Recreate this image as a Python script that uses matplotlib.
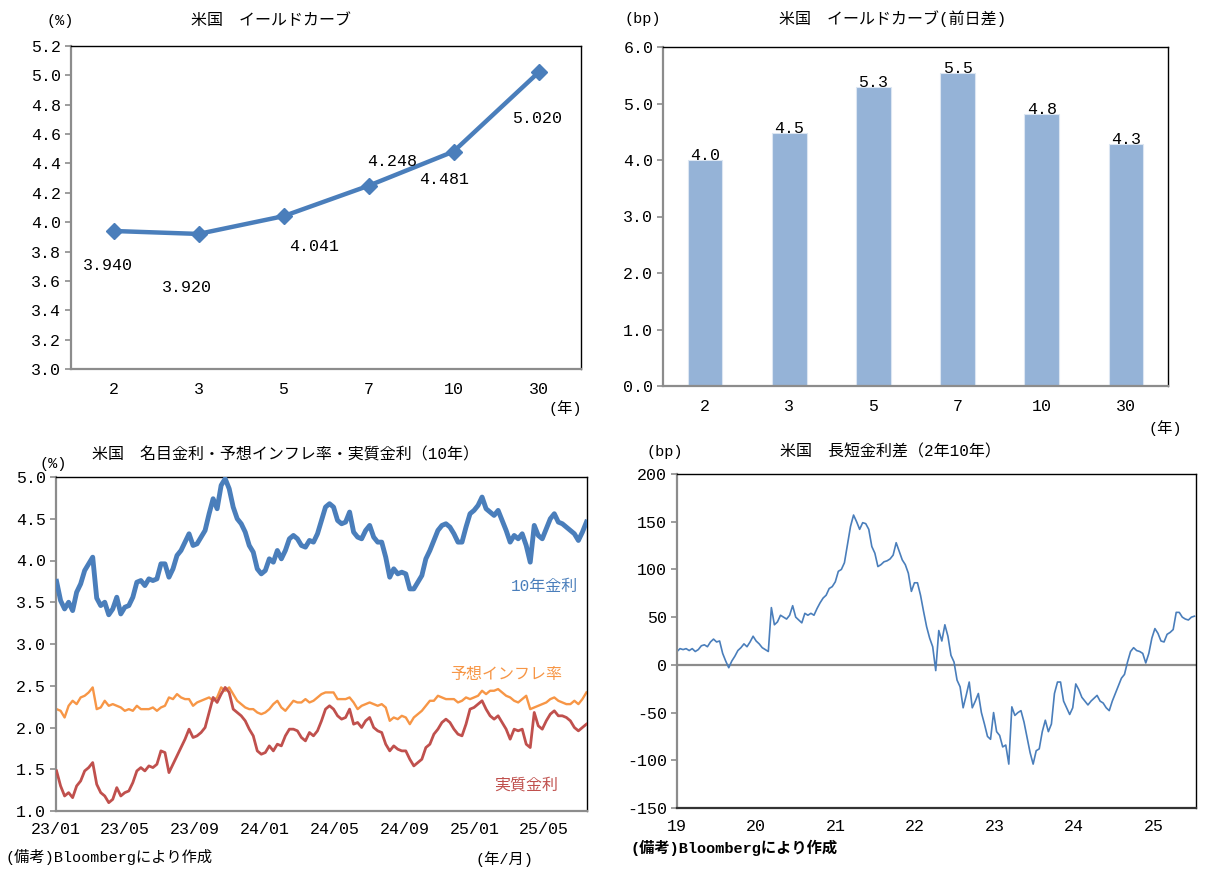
import numpy as np
import pandas as pd
import matplotlib
matplotlib.use('Agg')
import matplotlib.pyplot as plt
import matplotlib.dates as mdates
from matplotlib.ticker import FixedLocator, FormatStrFormatter

plt.rcParams['font.family'] = ['Liberation Mono', 'Noto Sans CJK JP']
plt.rcParams['axes.unicode_minus'] = False

# ---------------- data ----------------
maturities = ['2', '3', '5', '7', '10', '30']
yields = [3.940, 3.920, 4.041, 4.248, 4.481, 5.020]
daily_change_bp = [4.0, 4.47, 5.29, 5.54, 4.81, 4.29]

# weekly (Mondays from 2023-01-02) 10Y nominal, breakeven inflation, real yield (%)
nominal_10y = [
    3.75, 3.52, 3.42, 3.50, 3.40, 3.62, 3.72, 3.88, 3.96, 4.04,
    3.55, 3.46, 3.50, 3.35, 3.42, 3.56, 3.36, 3.44, 3.46, 3.56,
    3.74, 3.76, 3.70, 3.78, 3.76, 3.78, 3.96, 3.96, 3.80, 3.90,
    4.06, 4.12, 4.22, 4.32, 4.18, 4.20, 4.28, 4.36, 4.56, 4.74,
    4.62, 4.90, 4.98, 4.86, 4.64, 4.50, 4.44, 4.34, 4.18, 4.10,
    3.90, 3.84, 3.88, 4.02, 3.98, 4.12, 4.02, 4.12, 4.26, 4.30,
    4.26, 4.18, 4.16, 4.24, 4.22, 4.32, 4.48, 4.64, 4.68, 4.64,
    4.48, 4.44, 4.46, 4.58, 4.34, 4.28, 4.26, 4.36, 4.42, 4.28,
    4.22, 4.22, 4.04, 3.80, 3.90, 3.84, 3.86, 3.84, 3.66, 3.66,
    3.74, 3.82, 4.02, 4.12, 4.24, 4.36, 4.42, 4.44, 4.40, 4.32,
    4.22, 4.22, 4.40, 4.56, 4.60, 4.66, 4.76, 4.62, 4.58, 4.54,
    4.60, 4.48, 4.36, 4.22, 4.30, 4.26, 4.32, 4.18, 3.98, 4.42,
    4.30, 4.26, 4.38, 4.50, 4.56, 4.46, 4.44, 4.40, 4.36, 4.32,
    4.24, 4.34, 4.46]
breakeven_10y = [
    2.22, 2.20, 2.12, 2.26, 2.32, 2.28, 2.36, 2.38, 2.42, 2.48,
    2.22, 2.24, 2.32, 2.26, 2.28, 2.26, 2.24, 2.20, 2.22, 2.20,
    2.26, 2.22, 2.22, 2.22, 2.24, 2.20, 2.24, 2.26, 2.36, 2.34,
    2.40, 2.36, 2.34, 2.34, 2.26, 2.30, 2.32, 2.34, 2.36, 2.32,
    2.36, 2.48, 2.44, 2.48, 2.40, 2.32, 2.28, 2.24, 2.22, 2.22,
    2.18, 2.16, 2.18, 2.22, 2.28, 2.32, 2.24, 2.20, 2.26, 2.32,
    2.30, 2.30, 2.34, 2.30, 2.32, 2.36, 2.40, 2.42, 2.42, 2.42,
    2.34, 2.34, 2.34, 2.36, 2.30, 2.22, 2.26, 2.28, 2.30, 2.28,
    2.26, 2.28, 2.24, 2.08, 2.12, 2.10, 2.14, 2.12, 2.04, 2.12,
    2.16, 2.20, 2.26, 2.32, 2.32, 2.38, 2.36, 2.34, 2.34, 2.34,
    2.30, 2.32, 2.36, 2.34, 2.36, 2.38, 2.44, 2.40, 2.44, 2.44,
    2.46, 2.42, 2.38, 2.36, 2.32, 2.30, 2.34, 2.38, 2.22, 2.24,
    2.26, 2.28, 2.30, 2.34, 2.36, 2.32, 2.30, 2.28, 2.28, 2.32,
    2.28, 2.34, 2.42]
real_10y = [
    1.48, 1.30, 1.18, 1.22, 1.16, 1.30, 1.36, 1.48, 1.52, 1.58,
    1.32, 1.22, 1.18, 1.10, 1.14, 1.28, 1.18, 1.22, 1.24, 1.34,
    1.48, 1.52, 1.48, 1.54, 1.52, 1.56, 1.72, 1.70, 1.46, 1.56,
    1.66, 1.76, 1.86, 1.98, 1.88, 1.90, 1.94, 2.00, 2.18, 2.36,
    2.30, 2.40, 2.48, 2.42, 2.22, 2.18, 2.14, 2.08, 1.98, 1.90,
    1.72, 1.68, 1.70, 1.78, 1.72, 1.80, 1.78, 1.90, 1.98, 1.98,
    1.96, 1.88, 1.84, 1.94, 1.90, 1.96, 2.08, 2.22, 2.26, 2.22,
    2.14, 2.10, 2.12, 2.22, 2.04, 2.06, 2.00, 2.08, 2.12, 2.00,
    1.96, 1.94, 1.80, 1.72, 1.78, 1.74, 1.72, 1.72, 1.62, 1.54,
    1.58, 1.62, 1.76, 1.80, 1.92, 1.98, 2.06, 2.10, 2.06, 1.98,
    1.92, 1.90, 2.04, 2.22, 2.24, 2.28, 2.32, 2.22, 2.14, 2.10,
    2.14, 2.06, 1.98, 1.86, 1.98, 1.96, 1.98, 1.80, 1.76, 2.18,
    2.02, 1.98, 2.08, 2.16, 2.20, 2.14, 2.14, 2.12, 2.08, 2.00,
    1.96, 2.00, 2.04]
dates_10y = pd.date_range('2023-01-02', periods=len(nominal_10y), freq='7D')

# bi-weekly 2s10s spread (bp) from 2019-01-01
spread_2s10s = [
    14, 17, 16, 17, 15, 17, 14, 16, 20, 21,
    19, 24, 27, 24, 25, 12, 4, -3, 4, 9,
    15, 18, 22, 19, 24, 30, 25, 22, 18, 16,
    14, 60, 42, 45, 52, 50, 48, 52, 62, 50,
    47, 44, 54, 52, 54, 52, 59, 65, 70, 73,
    80, 82, 87, 98, 100, 107, 126, 145, 157, 150,
    142, 149, 148, 142, 124, 117, 103, 105, 108, 109,
    111, 115, 128, 119, 110, 105, 96, 77, 86, 86,
    73, 56, 40, 28, 19, -6, 36, 25, 42, 30,
    10, 3, -16, -23, -45, -32, -18, -45, -38, -30,
    -50, -62, -75, -78, -50, -70, -74, -86, -84, -104,
    -44, -53, -50, -48, -60, -76, -92, -104, -90, -88,
    -70, -58, -70, -62, -30, -18, -18, -38, -45, -52,
    -45, -20, -26, -34, -38, -42, -38, -35, -32, -38,
    -40, -45, -48, -38, -30, -22, -14, -10, 3, 14,
    18, 15, 14, 12, 2, 12, 28, 38, 33, 25,
    24, 32, 34, 37, 55, 55, 50, 48, 47, 50,
    51]
dates_spread = pd.date_range('2019-01-01', periods=len(spread_2s10s), freq='14D')

BLUE = '#4A7EBB'
BAR = '#95B3D7'
ORANGE = '#F79646'
RED = '#C0504D'
GRAY = '#8C8C8C'
NUM_FS = 12

# ---------------- figure ----------------
W, H = 1219, 883
fig = plt.figure(figsize=(W / 100, H / 100), dpi=100)


def ax_px(x0, y0, x1, y1):
    return fig.add_axes([x0 / W, 1 - y1 / H, (x1 - x0) / W, (y1 - y0) / H])


def txt(x, y, s, **kw):
    kw.setdefault('ha', 'center')
    kw.setdefault('va', 'center')
    kw.setdefault('fontsize', 11)
    fig.text(x / W, 1 - y / H, s, **kw)


def style(ax, xpad=9):
    for s in ['left', 'bottom']:
        ax.spines[s].set_color(GRAY)
        ax.spines[s].set_linewidth(1.6)
    for s in ['top', 'right']:
        ax.spines[s].set_color('black')
        ax.spines[s].set_linewidth(1.0)
    ax.tick_params(axis='y', direction='out', length=4, width=1.2,
                   color=GRAY, labelsize=NUM_FS, pad=3)
    ax.tick_params(axis='x', length=0, labelsize=NUM_FS, pad=xpad)


# ---- panel 1: yield curve ----
ax1 = ax_px(71, 46, 581, 369)
xc = np.arange(len(maturities))
ax1.plot(xc, yields, color=BLUE, lw=3.2, marker='D', ms=8.5, zorder=3)
ax1.set_xlim(-0.5, len(maturities) - 0.5)
ax1.set_ylim(3.0, 5.2)
ax1.yaxis.set_major_locator(FixedLocator(np.round(np.arange(3.0, 5.21, 0.2), 1)))
ax1.yaxis.set_major_formatter(FormatStrFormatter('%.1f'))
ax1.set_xticks(xc)
ax1.set_xticklabels(maturities)
style(ax1)
label_offsets = [(-6, -35), (-12, -54), (31, -30), (24, 24), (-9, -28), (-1, -46)]
for xi, yi, off in zip(xc, yields, label_offsets):
    ax1.annotate(f'{yi:.3f}', (xi, yi), xytext=off, textcoords='offset pixels',
                 ha='center', va='center', fontsize=NUM_FS)
txt(271, 21, '米国　イールドカーブ', fontsize=11.5)
txt(60, 21, '(%)')
txt(565, 408, '(年)')

# ---- panel 2: daily change ----
ax2 = ax_px(663, 47, 1168, 386)
ax2.bar(xc, daily_change_bp, width=0.41, color=BAR, edgecolor='#DCE6F2', linewidth=0.8, zorder=2)
ax2.set_xlim(-0.5, len(maturities) - 0.5)
ax2.set_ylim(0, 6.0)
ax2.yaxis.set_major_locator(FixedLocator(np.arange(0, 6.01, 1.0)))
ax2.yaxis.set_major_formatter(FormatStrFormatter('%.1f'))
ax2.set_xticks(xc)
ax2.set_xticklabels(maturities)
style(ax2)
for xi, yi in zip(xc, daily_change_bp):
    ax2.annotate(f'{yi:.1f}', (xi, yi), xytext=(0, -3), textcoords='offset pixels',
                 ha='center', va='bottom', fontsize=NUM_FS)
txt(893, 19, '米国　イールドカーブ(前日差)', fontsize=11.5)
txt(643, 19, '(bp)')
txt(1165, 428, '(年)')

# ---- panel 3: nominal / breakeven / real ----
ax3 = ax_px(56, 477, 587, 811)
ax3.plot(dates_10y, breakeven_10y, color=ORANGE, lw=1.7, zorder=2)
ax3.plot(dates_10y, real_10y, color=RED, lw=2.0, zorder=3)
ax3.plot(dates_10y, nominal_10y, color=BLUE, lw=3.5, solid_joinstyle='round', zorder=4)
ax3.set_xlim(pd.Timestamp('2023-01-01'), pd.Timestamp('2025-07-15'))
ax3.set_ylim(1.0, 5.0)
ax3.yaxis.set_major_locator(FixedLocator(np.arange(1.0, 5.01, 0.5)))
ax3.yaxis.set_major_formatter(FormatStrFormatter('%.1f'))
ax3.xaxis.set_major_locator(mdates.MonthLocator(bymonth=[1, 5, 9]))
ax3.xaxis.set_major_formatter(mdates.DateFormatter('%y/%m'))
style(ax3, xpad=8)
txt(285, 455, '米国　名目金利・予想インフレ率・実質金利（10年）', fontsize=11.5)
txt(53, 464, '(%)')
txt(544, 586, '10年金利', color=BLUE, fontsize=11.5)
txt(506, 674, '予想インフレ率', color=ORANGE, fontsize=11.5)
txt(526, 785, '実質金利', color=RED, fontsize=11.5)
txt(5, 857, '(備考)Bloombergにより作成', ha='left')
txt(504, 859, '(年/月)')

# ---- panel 4: 2s10s spread ----
ax4 = ax_px(677, 474, 1196, 808)
ax4.axhline(0, color=GRAY, lw=1.6, zorder=1)
ax4.plot(dates_spread, spread_2s10s, color=BLUE, lw=1.2, zorder=2)
ax4.set_xlim(pd.Timestamp('2019-01-01'), pd.Timestamp('2025-07-15'))
ax4.set_ylim(-150, 200)
ax4.yaxis.set_major_locator(FixedLocator(np.arange(-150, 201, 50)))
ax4.yaxis.set_major_formatter(FormatStrFormatter('%d'))
ax4.xaxis.set_major_locator(mdates.YearLocator())
ax4.xaxis.set_major_formatter(mdates.DateFormatter('%y'))
style(ax4, xpad=8)
ax4.spines['bottom'].set_color('#333333')
txt(890, 452, '米国　長短金利差（2年10年）', fontsize=11.5)
txt(665, 452, '(bp)')
txt(631, 848, '(備考)Bloombergにより作成', ha='left', fontweight='bold')

fig.savefig('out.png', dpi=100)
